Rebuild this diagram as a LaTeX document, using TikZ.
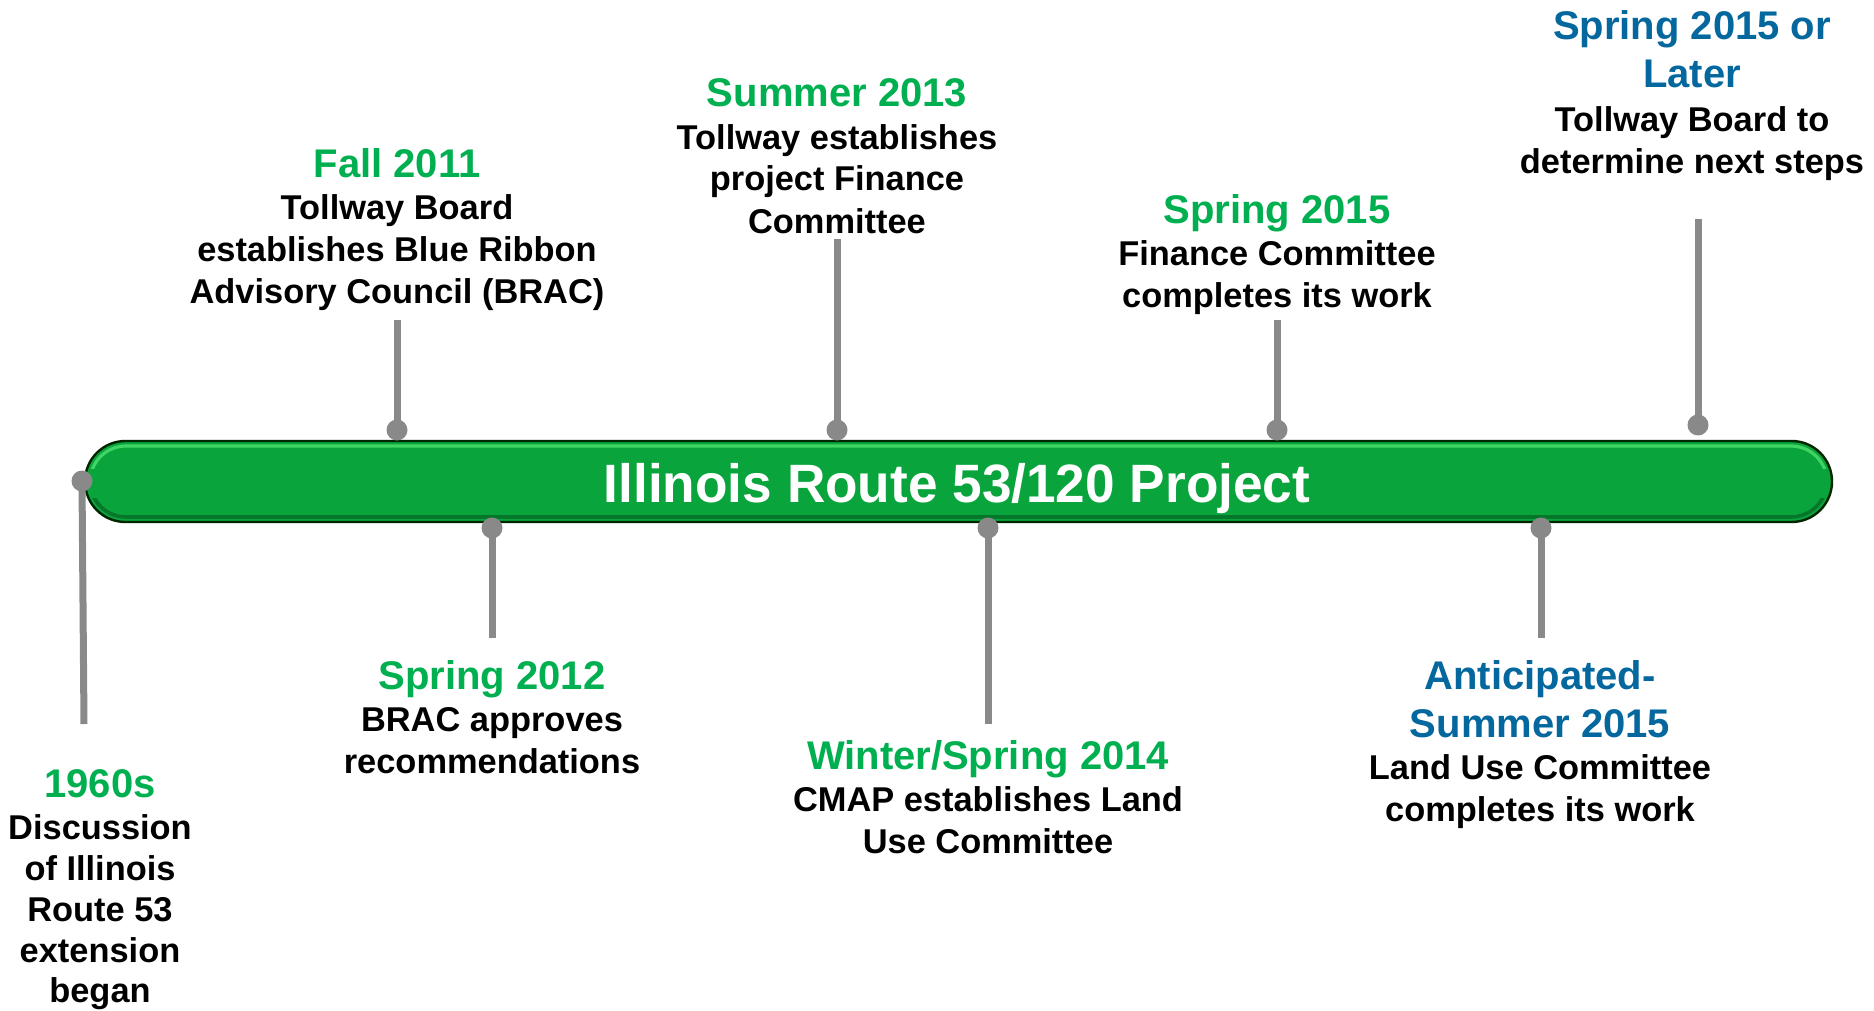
\documentclass[tikz,border=0pt]{standalone}
\usepackage{fontspec}
\setmainfont{Liberation Sans}
\definecolor{tgreen}{RGB}{0,176,80}
\definecolor{tblue}{RGB}{4,104,158}
\definecolor{barg}{RGB}{9,164,60}
\definecolor{barlight}{RGB}{64,212,100}
\definecolor{bardark}{RGB}{6,118,42}
\definecolor{stem}{RGB}{137,137,137}
\tikzset{
  ttl/.style={anchor=base,inner sep=0pt,font=\fontsize{20}{24}\selectfont\bfseries,text=tgreen},
  ttlb/.style={ttl,text=tblue},
  txt/.style={anchor=base,inner sep=0pt,font=\fontsize{17.2}{21}\selectfont\bfseries,text=black},
  dot/.style={circle,fill=stem,inner sep=0pt,minimum size=10.5pt},
  stemline/.style={draw=stem,line width=3.5pt}
}
\begin{document}
\begin{tikzpicture}[x=0.5pt,y=-0.5pt]
\useasboundingbox (0,0) rectangle (1874,1011);
\fill[white] (0,0) rectangle (1874,1011);
% bar
\fill[barg,draw=black!85!green,line width=1.2pt,rounded corners=20.2pt] (85,441) rectangle (1832,522);
\begin{scope}
  \clip (0,441) rectangle (1874,468);
  \draw[barlight,line width=1.6pt,rounded corners=18pt] (90,446) rectangle (1827,517);
\end{scope}
\begin{scope}
  \clip (0,498) rectangle (1874,522);
  \draw[bardark,line width=1.8pt,rounded corners=18pt] (90,446) rectangle (1827,517);
\end{scope}
\node[anchor=base,inner sep=0pt,text=white,xscale=0.985,font=\fontsize{27}{32}\selectfont\bfseries] (bar) at (957,502) {Illinois Route 53/120 Project};
% dots and end points
\node[dot] (d60) at (82,481) {};
\coordinate (e60) at (84,724);
\node[dot] (d11) at (397,430) {};
\coordinate (e11) at (397,320);
\node[dot] (d13) at (837,430) {};
\coordinate (e13) at (837,239);
\node[dot] (d15) at (1277,430) {};
\coordinate (e15) at (1277,320);
\node[dot] (dlt) at (1698,425) {};
\coordinate (elt) at (1698,219);
\node[dot] (d12) at (492,528) {};
\coordinate (e12) at (492,638);
\node[dot] (d14) at (988,528) {};
\coordinate (e14) at (988,724);
\node[dot] (dan) at (1541,528) {};
\coordinate (ean) at (1541,638);
\draw[stemline] (d60.center) -- (e60);
\draw[stemline] (d11.center) -- (e11);
\draw[stemline] (d13.center) -- (e13);
\draw[stemline] (d15.center) -- (e15);
\draw[stemline] (dlt.center) -- (elt);
\draw[stemline] (d12.center) -- (e12);
\draw[stemline] (d14.center) -- (e14);
\draw[stemline] (dan.center) -- (ean);
% Fall 2011
\node[ttl] (f11t) at (397,177) {Fall 2011};
\node[txt] (f11a) at (397,219) {Tollway Board};
\node[txt] (f11b) at (397,261) {establishes Blue Ribbon};
\node[txt] (f11c) at (397,303) {Advisory Council (BRAC)};
% Summer 2013
\node[ttl] (s13t) at (837,107) {Summer 2013};
\node[txt] (s13a) at (837,149) {Tollway establishes};
\node[txt] (s13b) at (837,191) {project Finance};
\node[txt] (s13c) at (837,233) {Committee};
% Spring 2015
\node[ttl] (p15t) at (1277,223) {Spring 2015};
\node[txt] (p15a) at (1277,265) {Finance Committee};
\node[txt] (p15b) at (1277,307) {completes its work};
% Spring 2015 or Later
\node[ttlb] (ltt1) at (1692,40) {Spring 2015 or};
\node[ttlb] (ltt2) at (1692,88) {Later};
\node[txt] (lta) at (1692,132) {Tollway Board to};
\node[txt] (ltb) at (1692,173) {determine next steps};
% Spring 2012
\node[ttl] (p12t) at (492,689) {Spring 2012};
\node[txt] (p12a) at (492,731) {BRAC approves};
\node[txt] (p12b) at (492,773) {recommendations};
% Winter/Spring 2014
\node[ttl] (w14t) at (988,769) {Winter/Spring 2014};
\node[txt] (w14a) at (988,811) {CMAP establishes Land};
\node[txt] (w14b) at (988,853) {Use Committee};
% Anticipated
\node[ttlb] (ant1) at (1540,689) {Anticipated-};
\node[ttlb] (ant2) at (1540,737) {Summer 2015};
\node[txt] (anta) at (1540,779) {Land Use Committee};
\node[txt] (antb) at (1540,821) {completes its work};
% 1960s
\node[ttl] (s60t) at (100,797) {1960s};
\node[txt] (s60a) at (100,839) {Discussion};
\node[txt] (s60b) at (100,880) {of Illinois};
\node[txt] (s60c) at (100,921) {Route 53};
\node[txt] (s60d) at (100,962) {extension};
\node[txt] (s60e) at (100,1002) {began};
\end{tikzpicture}
\end{document}
